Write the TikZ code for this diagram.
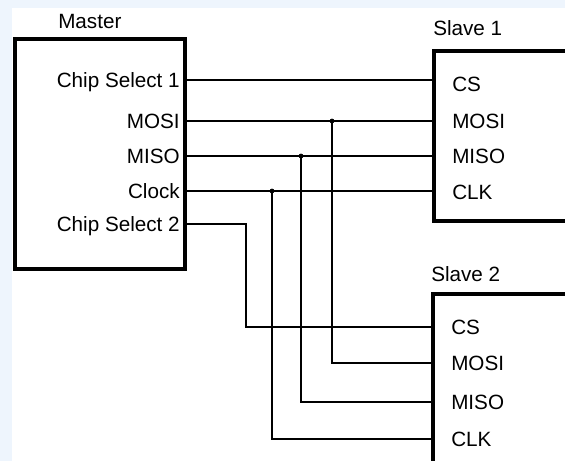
\documentclass[tikz,border=0pt]{standalone}
\usepackage{fontspec}
\setmainfont{Liberation Sans}
\usepackage{xcolor}
\usetikzlibrary{positioning, calc}
\definecolor{bgblue}{RGB}{238,245,253}

\begin{document}
\begin{tikzpicture}[x=0.75pt, y=-0.75pt,
    chip/.style={draw, line width=3.2pt},
    wire/.style={line width=1.1pt},
    every node/.style={inner ysep=0pt, text height=11.1pt, text depth=0pt, font=\fontsize{15.5}{18}\selectfont},
    pinl/.style={anchor=east, inner xsep=3.75pt},
    pinr/.style={anchor=west, inner xsep=13.5pt},
    title/.style={anchor=west, inner xsep=0pt}]
        \useasboundingbox (0,0) rectangle (565,461);
        \fill[bgblue] (0,0) rectangle (565,461);
        \fill[white] (12,8) rectangle (565,461);
        \clip (0,0) rectangle (565,461);

        % Master
        \draw[chip] (15,39) rectangle (185,269);
        \node[title] (mtitle) at (58,21) {Master};
        \node[pinl] (mcs1) at (185,80) {Chip Select 1};
        \node[pinl] (mmosi) at (185,121) {MOSI};
        \node[pinl] (mmiso) at (185,156) {MISO};
        \node[pinl] (mclk) at (185,191) {Clock};
        \node[pinl] (mcs2) at (185,224) {Chip Select 2};

        % Slave 1
        \draw[chip] (434,51) rectangle (567,221);
        \node[title] (s1title) at (433,28.5) {Slave 1};
        \node[pinr] (s1cs) at (434,84) {CS};
        \node[pinr] (s1mosi) at (434,121.5) {MOSI};
        \node[pinr] (s1miso) at (434,156) {MISO};
        \node[pinr] (s1clk) at (434,192) {CLK};

        % Slave 2
        \draw[chip] (433,294) rectangle (567,480);
        \node[title] (s2title) at (431,274.5) {Slave 2};
        \node[pinr] (s2cs) at (433,327) {CS};
        \node[pinr] (s2mosi) at (433,363) {MOSI};
        \node[pinr] (s2miso) at (433,402) {MISO};
        \node[pinr] (s2clk) at (433,439) {CLK};

        % bus to slave 1
        \draw[wire] (mcs1.east) -- (mcs1.east -| s1cs.west);
        \draw[wire] (mmosi.east) -- (mmosi.east -| s1mosi.west);
        \draw[wire] (mmiso.east) -- (mmiso.east -| s1miso.west);
        \draw[wire] (mclk.east) -- (mclk.east -| s1clk.west);

        % taps to slave 2
        \coordinate (jmosi) at (332,121);
        \coordinate (jmiso) at (301,156);
        \coordinate (jclk) at (272,191);
        \draw[wire] (jmosi) |- (s2mosi.west);
        \draw[wire] (jmiso) |- (s2miso.west);
        \draw[wire] (jclk) |- (s2clk.west);
        \draw[wire] (mcs2.east) -- ++(61,0) |- (s2cs.west);
        \foreach \j in {jmosi, jmiso, jclk} \fill (\j) circle (2.4);
    \end{tikzpicture}
\end{document}
